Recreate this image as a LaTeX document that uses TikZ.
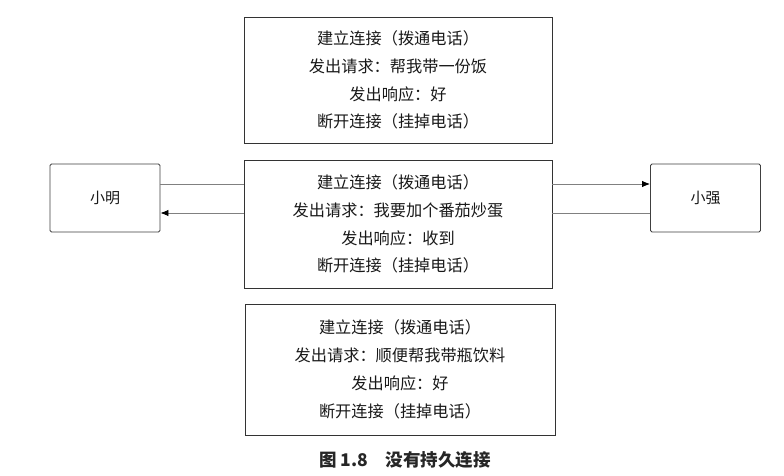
\documentclass[tikz,border=0pt]{standalone}
\usepackage{fontspec}
\newfontfamily\cjk{Noto Sans CJK SC}
\usetikzlibrary{arrows.meta}
\begin{document}
\begin{tikzpicture}[x=1pt,y=-1pt,
  msgbox/.style={draw=black!80, line width=0.9pt, inner sep=0pt, align=center,
    text=black!90, font=\cjk\fontsize{16.2}{27.8}\selectfont},
  person/.style={draw=black!75, line width=0.9pt, rounded corners=1.5pt, inner sep=0pt,
    minimum width=110pt, minimum height=68pt, text=black!90, font=\cjk\fontsize{15}{16}\selectfont},
  link/.style={draw=black!50, line width=0.9pt},
  tip/.style={-{Latex[length=8pt,width=6.5pt,color=black]}}]
\useasboundingbox (0,0) rectangle (784,476);
\fill[white] (0,0) rectangle (784,476);
\node[msgbox, minimum width=308pt, minimum height=126pt] (top) at (398,80)
  {建立连接（拨通电话）\\发出请求：帮我带一份饭\\发出响应：好\\断开连接（挂掉电话）};
\node[msgbox, minimum width=308pt, minimum height=128pt] (mid) at (398,224)
  {建立连接（拨通电话）\\发出请求：我要加个番茄炒蛋\\发出响应：收到\\断开连接（挂掉电话）};
\node[msgbox, minimum width=310pt, minimum height=131pt] (bot) at (400,369.5)
  {建立连接（拨通电话）\\发出请求：顺便帮我带瓶饮料\\发出响应：好\\断开连接（挂掉电话）};
\node[person] (xm) at (105,198) {小明};
\node[person] (xq) at (705.5,198) {小强};
\draw[link] ([yshift=14pt]xm.east) -- ([yshift=14pt]xm.east -| mid.west);
\draw[link,tip] ([yshift=-15pt]xm.east -| mid.west) -- ([yshift=-15pt]xm.east);
\draw[link,tip] ([yshift=14pt]xq.west -| mid.east) -- ([yshift=14pt]xq.west);
\draw[link] ([yshift=-15pt]xq.west) -- ([yshift=-15pt]xq.west -| mid.east);
\node[font=\cjk\bfseries\fontsize{17.5}{19}\selectfont, text=black!85] (cap) at (405,460) {图 1.8\hspace{1em}没有持久连接};
\end{tikzpicture}
\end{document}
